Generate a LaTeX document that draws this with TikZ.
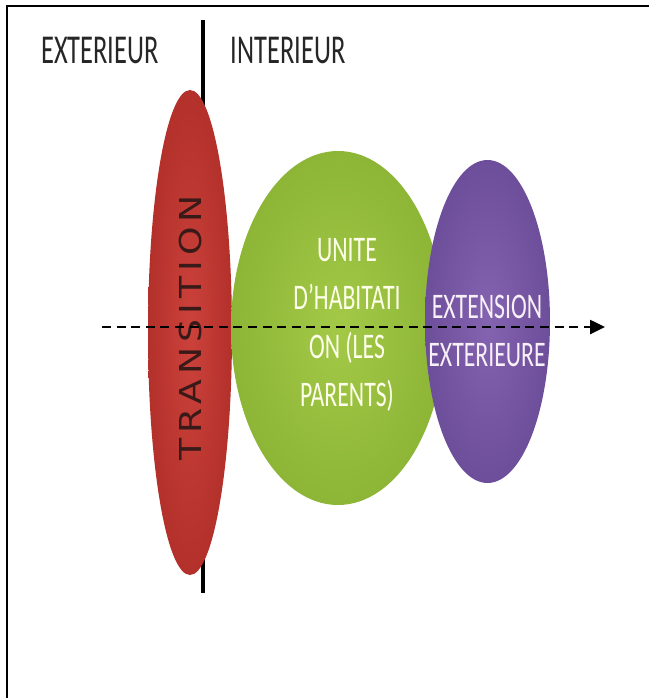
\documentclass[tikz,border=0pt]{standalone}
\usepackage{fontspec}
\setmainfont{Carlito}
\newfontfamily\spacedfont[LetterSpace=14]{DejaVu Sans}
\usetikzlibrary{arrows.meta,positioning,shapes.geometric}
\definecolor{trred}{HTML}{CC423B}
\definecolor{trreddark}{HTML}{B3302B}
\definecolor{hbgreen}{HTML}{A3C947}
\definecolor{hbgreendark}{HTML}{8DB536}
\definecolor{expurple}{HTML}{8463B0}
\definecolor{expurpledark}{HTML}{6D4E9A}
\definecolor{txtdark}{HTML}{262626}
\definecolor{trtext}{HTML}{3A1A18}

\begin{document}
\begin{tikzpicture}[
  x=0.5pt, y=-0.5pt,
  zone/.style={
    font=\fontsize{20.5}{24}\selectfont, text=txtdark,
    inner sep=0pt, xscale=0.645
  },
  blob/.style={ellipse, inner sep=0pt, draw=none},
  blobtext/.style={
    align=center, inner sep=0pt, xscale=0.66,
    font=\fontsize{18}{24.25}\selectfont
  },
  arr/.style={-{Triangle[length=7.5pt, width=7pt]}, line width=1.3pt,
    dash pattern=on 4.5pt off 2.8pt},
]
  \useasboundingbox (0,0) rectangle (649,698);

  % Frame
  \draw[line width=1.25pt] (649,6) -- (7,6) -- (7,698);

  % Labels
  \node[zone] (ext) at (100,50) {EXTERIEUR};
  \node[zone] (int) at (288,50) {INTERIEUR};

  % Divider
  \coordinate (divtop) at (203,20);
  \coordinate (divbot) at (203,593);
  \draw[line width=2pt] (divtop) -- (divbot);

  % Zones
  \node[blob, shade, inner color=trred, outer color=trreddark,
    minimum width=42pt, minimum height=242.5pt] (trans) at (190,332.5) {};
  \node[blob, shade, inner color=hbgreen, outer color=hbgreendark,
    minimum width=107pt, minimum height=177pt] (unite) at (338,328) {};
  \node[blob, shade, inner color=expurple, outer color=expurpledark,
    minimum width=62.5pt, minimum height=161.5pt] (exten) at (487.5,321.5) {};

  % Texts
  \node[rotate=90, inner sep=0pt, text=trtext,
    font=\spacedfont\fontsize{15.1}{18}\selectfont] (transtxt) at (191,328)
    {\scalebox{1.2}[1]{TRANSITION}};
  \node[blobtext, text=green!4!yellow!8] (unitetxt) at (347,325)
    {UNITE\\D’HABITATI\\ON (LES\\PARENTS)};
  \node[blobtext, text=violet!6] (extentxt) at (487,331)
    {EXTENSION\\EXTERIEURE};

  % Axis
  \coordinate (axstart) at (102,327);
  \coordinate (axend) at (605,327);
  \draw[arr] (axstart) -- (axend);
\end{tikzpicture}
\end{document}
